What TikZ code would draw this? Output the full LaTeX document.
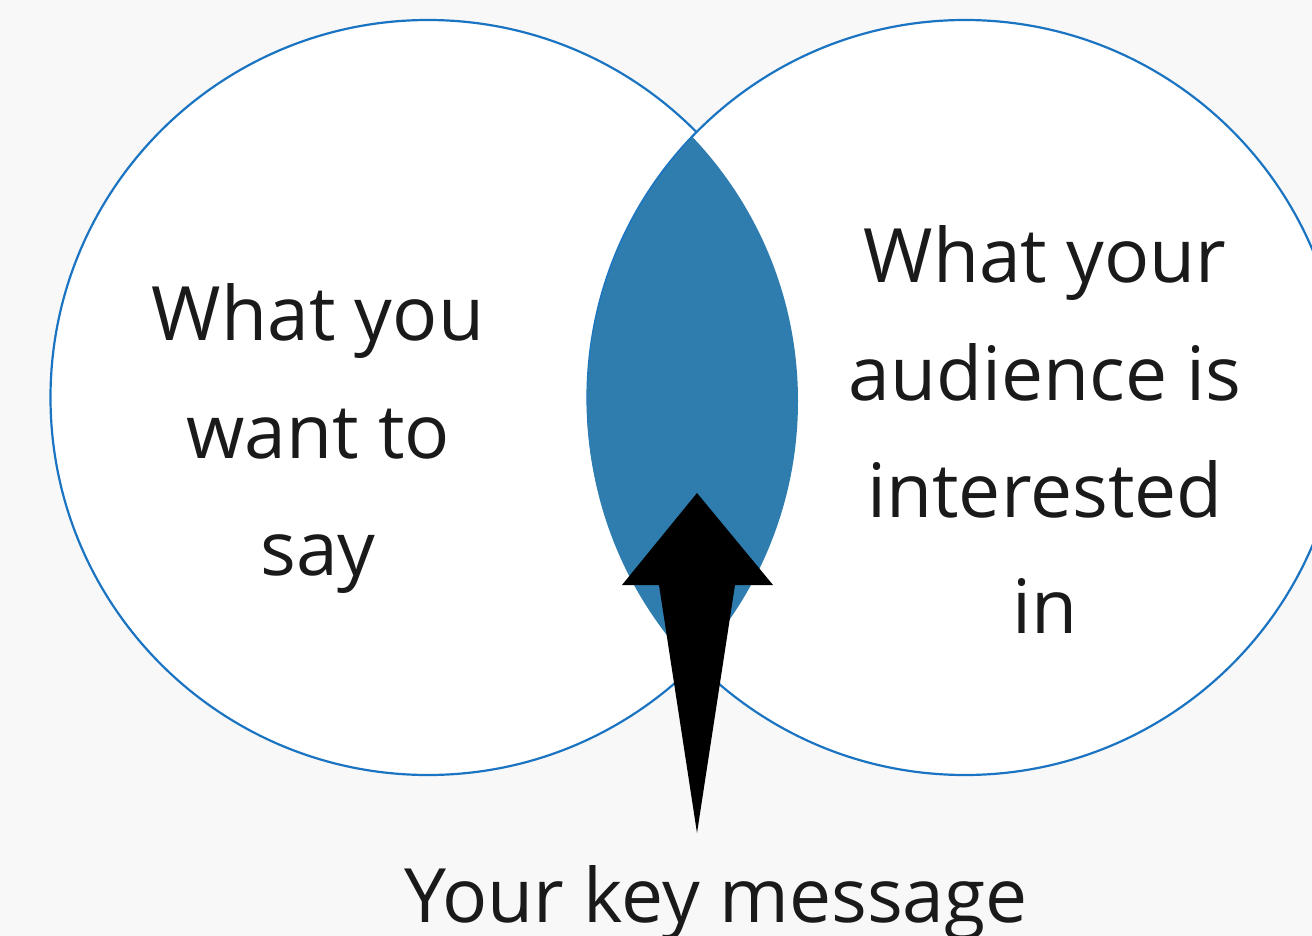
\documentclass[tikz,border=0pt]{standalone}
\usepackage{fontspec}
\setmainfont{Open Sans}
\definecolor{bg}{HTML}{F8F8F8}
\definecolor{ring}{HTML}{1A74C2}
\definecolor{lens}{HTML}{2E7DAE}
\definecolor{ink}{HTML}{1A1A1A}
\begin{document}
\begin{tikzpicture}[x=1pt,y=-1pt,
  ringline/.style={draw=ring,line width=2.2pt,fill=white},
  label/.style={font=\fontsize{75}{117}\selectfont,text=ink,anchor=base,inner sep=0pt}]
\fill[bg] (0,0) rectangle (1312,936);
\useasboundingbox (0,0) rectangle (1312,936);
% circles
\path[ringline] (428,397.5) circle[radius=377.5];
\path[ringline] (965,397.5) circle[radius=377.5];
% lens
\begin{scope}
  \clip (415,401) circle[radius=383];
  \fill[lens] (970,401) circle[radius=383];
\end{scope}
% arrow
\coordinate (tip) at (697,493);
\coordinate (tail) at (697,833);
\fill[black] (tip) -- (773,585) -- (735,585) -- (tail) -- (659,585) -- (622,585) -- cycle;
% left text
\node[label] (l1) at (318,340) {What you};
\node[label] (l2) at (318,458) {want to};
\node[label] (l3) at (318,575) {say};
% right text
\node[label] (r1) at (1045,283) {What your};
\node[label] (r2) at (1045,400) {audience is};
\node[label] (r3) at (1045,517) {interested};
\node[label] (r4) at (1045,633) {in};
% bottom
\node[label] (km) at (716,922) {Your key message};
\end{tikzpicture}
\end{document}
